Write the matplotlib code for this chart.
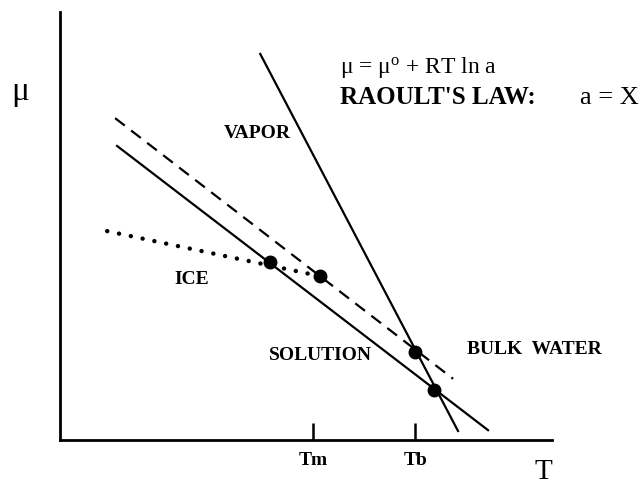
import matplotlib
matplotlib.use("Agg")
import matplotlib.pyplot as plt

plt.rcParams['font.family'] = ['Liberation Serif', 'DejaVu Serif']
plt.rcParams['mathtext.fontset'] = 'custom'
plt.rcParams['mathtext.rm'] = 'Liberation Serif'
plt.rcParams['mathtext.it'] = 'Liberation Serif:italic'

# Data (arbitrary T / mu units, axes span 0..10)
vapor_T = [4.07, 8.09]
vapor_mu = [9.02, 0.21]
solution_T = [1.16, 8.70]
solution_mu = [6.87, 0.23]
bulk_T = [1.12, 7.99]
bulk_mu = [7.52, 1.43]
ice_T = [0.96, 5.28]
ice_mu = [4.88, 3.83]
points_T = [4.27, 5.28, 7.22, 7.60]
points_mu = [4.16, 3.83, 2.06, 1.17]
tick_pos = [5.14, 7.22]
tick_labels = ['Tm', 'Tb']

W, H = 641, 489
fig = plt.figure(figsize=(W / 100, H / 100), dpi=100)
ax = fig.add_axes([60 / W, (H - 441) / H, 492 / W, 428 / H])
ax.set_xlim(0, 10)
ax.set_ylim(0, 10)
for s in ['top', 'right']:
    ax.spines[s].set_visible(False)
for s in ['left', 'bottom']:
    ax.spines[s].set_linewidth(2.0)
ax.set_yticks([])
ax.set_xticks(tick_pos)
ax.set_xticklabels(tick_labels, fontsize=14, fontweight='bold')
ax.tick_params(axis='x', direction='in', length=12, width=1.8, pad=8)

ax.plot(vapor_T, vapor_mu, color='black', lw=1.6, clip_on=False)
ax.plot(solution_T, solution_mu, color='black', lw=1.6, clip_on=False)
ax.plot(bulk_T, bulk_mu, color='black', lw=1.6, dashes=(5.5, 3.6), clip_on=False)
ax.plot(ice_T, ice_mu, color='black', lw=3.2, ls=(0, (0.01, 2.7)),
        dash_capstyle='round', clip_on=False)
ax.plot(points_T, points_mu, 'o', color='black', markersize=9, clip_on=False)


def px(x, y):
    return x / W, 1 - y / H


fig.text(*px(20, 92), 'μ', fontsize=24, ha='center', va='center')
fig.text(*px(543, 472), 'T', fontsize=21, ha='center', va='center')
fig.text(*px(340, 68), 'μ = μ$^{\\mathrm{o}}$ + RT ln a', fontsize=17, ha='left', va='center')
fig.text(*px(340, 98), "RAOULT'S LAW:", fontsize=18, fontweight='bold', ha='left', va='center')
fig.text(*px(580, 98), 'a = X', fontsize=19, ha='left', va='center')
fig.text(*px(257, 133), 'VAPOR', fontsize=14, fontweight='bold', ha='center', va='center')
fig.text(*px(192, 280), 'ICE', fontsize=14, fontweight='bold', ha='center', va='center')
fig.text(*px(320, 356), 'SOLUTION', fontsize=14, fontweight='bold', ha='center', va='center')
fig.text(*px(467, 350), 'BULK  WATER', fontsize=14, fontweight='bold', ha='left', va='center')

fig.savefig('out.png', dpi=100)
